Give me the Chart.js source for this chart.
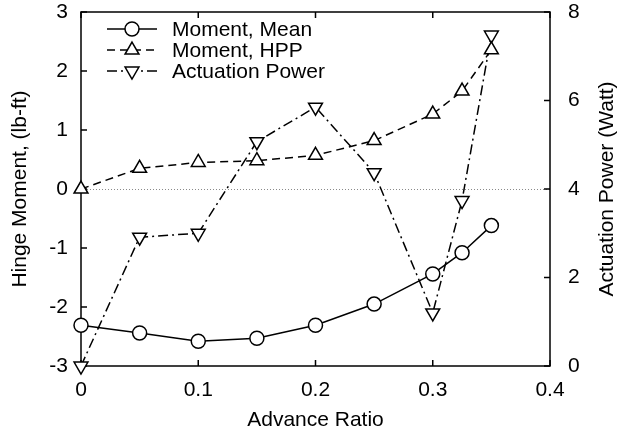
<!DOCTYPE html>
<html><head><meta charset="utf-8">
<script src="https://cdn.jsdelivr.net/npm/chart.js@4"></script>
<style>html,body{margin:0;padding:0;background:#fff}#wrap{width:621px;height:434px}</style>
</head><body><div id="wrap"><canvas id="c" width="621" height="434"></canvas></div>
<script>
const advanceRatio = [0, 0.05, 0.1, 0.15, 0.2, 0.25, 0.3, 0.325, 0.35];
const momentMean = [-2.31, -2.44, -2.58, -2.53, -2.31, -1.95, -1.44, -1.08, -0.62];
const momentHPP = [0.0, 0.35, 0.45, 0.48, 0.57, 0.82, 1.27, 1.66, 2.36];
const actuationPower = [0.0, 2.91, 3.0, 5.07, 5.85, 4.37, 1.2, 3.74, 7.48];
const xTicks = [0, 0.1, 0.2, 0.3, 0.4];
const yTicks = [-3, -2, -1, 0, 1, 2, 3];
const y2Ticks = [0, 2, 4, 6, 8];
const seriesNames = ['Moment, Mean', 'Moment, HPP', 'Actuation Power'];
const axisTitles = { x: 'Advance Ratio', y: 'Hinge Moment, (lb-ft)', y2: 'Actuation Power (Watt)' };

const FAMILY = '"Liberation Sans", Arial, Helvetica, sans-serif';
const FS = 21;
const font = { family: FAMILY, size: FS };

function pts(ys) { return advanceRatio.map((x, i) => ({ x: x, y: ys[i] })); }

const frameTicks = {
  id: 'frameTicks',
  beforeDatasetsDraw(chart) {
    const { ctx, chartArea: a, scales } = chart;
    ctx.save();
    const y0 = scales.y.getPixelForValue(0);
    ctx.strokeStyle = '#8a8a8a';
    ctx.lineWidth = 1;
    ctx.setLineDash([1, 2]);
    ctx.beginPath(); ctx.moveTo(a.left, y0 + 0.5); ctx.lineTo(a.right, y0 + 0.5); ctx.stroke();
    ctx.setLineDash([]);
    ctx.strokeStyle = '#000';
    ctx.lineWidth = 1.5;
    ctx.strokeRect(a.left, a.top, a.right - a.left, a.bottom - a.top);
    const L = 6;
    ctx.beginPath();
    xTicks.forEach(v => {
      const px = scales.x.getPixelForValue(v);
      ctx.moveTo(px, a.bottom); ctx.lineTo(px, a.bottom - L);
      ctx.moveTo(px, a.top); ctx.lineTo(px, a.top + L);
    });
    yTicks.forEach(v => {
      const py = scales.y.getPixelForValue(v);
      ctx.moveTo(a.left, py); ctx.lineTo(a.left + L, py);
    });
    y2Ticks.forEach(v => {
      const py = scales.y1.getPixelForValue(v);
      ctx.moveTo(a.right, py); ctx.lineTo(a.right - L, py);
    });
    ctx.stroke();
    ctx.restore();
  },
  afterDatasetsDraw(chart) {
    const { ctx, chartArea: a } = chart;
    ctx.save();
    ctx.fillStyle = '#000';
    ctx.font = FS + 'px ' + FAMILY;
    ctx.textAlign = 'center';
    ctx.textBaseline = 'middle';
    ctx.translate(607, (a.top + a.bottom) / 2);
    ctx.rotate(-Math.PI / 2);
    ctx.fillText(axisTitles.y2, 0, 0);
    ctx.restore();

    ctx.save();
    const rows = [29, 50, 71];
    chart.data.datasets.forEach((ds, i) => {
      const y = rows[i];
      ctx.strokeStyle = '#000';
      ctx.lineWidth = 1.5;
      ctx.setLineDash(ds.borderDash || []);
      ctx.beginPath(); ctx.moveTo(107, y); ctx.lineTo(157, y); ctx.stroke();
      ctx.setLineDash([]);
      ctx.fillStyle = '#fff';
      Chart.helpers.drawPoint(ctx, { pointStyle: ds.pointStyle, rotation: ds.pointRotation || 0, radius: ds.pointRadius, borderWidth: 1.5 }, 132, y);
      ctx.fillStyle = '#000';
      ctx.font = FS + 'px ' + FAMILY;
      ctx.textAlign = 'left';
      ctx.textBaseline = 'middle';
      ctx.fillText(ds.label, 172, y + 1);
    });
    ctx.restore();
  }
};

const common = {
  borderColor: '#000', borderWidth: 1.5, backgroundColor: '#fff',
  pointBackgroundColor: '#fff', pointBorderColor: '#000', pointBorderWidth: 1.5,
  pointHoverRadius: 0, tension: 0, clip: false, fill: false
};

function noPadV(s) { s.paddingTop = 0; s.paddingBottom = 0; }
function noPadH(s) { s.paddingLeft = 0; s.paddingRight = 0; }

new Chart(document.getElementById('c'), {
  type: 'line',
  data: {
    datasets: [
      Object.assign({}, common, { label: seriesNames[0], data: pts(momentMean), yAxisID: 'y', pointStyle: 'circle', pointRadius: 7 }),
      Object.assign({}, common, { label: seriesNames[1], data: pts(momentHPP), yAxisID: 'y', pointStyle: 'triangle', pointRadius: 8, borderDash: [8, 5] }),
      Object.assign({}, common, { label: seriesNames[2], data: pts(actuationPower), yAxisID: 'y1', pointStyle: 'triangle', pointRotation: 180, pointRadius: 8, borderDash: [10, 4, 2, 4] })
    ]
  },
  options: {
    responsive: false, animation: false, devicePixelRatio: 1,
    layout: { padding: { top: 12, left: 0, right: 0, bottom: 0 } },
    plugins: { legend: { display: false }, tooltip: { enabled: false } },
    scales: {
      x: {
        type: 'linear', position: 'bottom', min: 0, max: 0.4,
        afterBuildTicks: s => { s.ticks = xTicks.map(v => ({ value: v })); },
        afterFit: s => { s.height = 68; noPadH(s); },
        ticks: { font: font, color: '#000', padding: 12, maxRotation: 0, autoSkip: false, callback: v => String(v) },
        grid: { display: false, drawTicks: false }, border: { display: false },
        title: { display: true, text: axisTitles.x, font: font, color: '#000', padding: { top: 0, bottom: 1 } }
      },
      y: {
        type: 'linear', position: 'left', min: -3, max: 3,
        afterBuildTicks: s => { s.ticks = yTicks.map(v => ({ value: v })); },
        afterFit: s => { s.width = 81; noPadV(s); },
        ticks: { font: font, color: '#000', padding: 13, autoSkip: false, callback: v => String(v) },
        grid: { display: false, drawTicks: false }, border: { display: false },
        title: { display: true, text: axisTitles.y, font: font, color: '#000', padding: { top: 8, bottom: 0 } }
      },
      y1: {
        type: 'linear', position: 'right', min: 0, max: 8,
        afterBuildTicks: s => { s.ticks = y2Ticks.map(v => ({ value: v })); },
        afterFit: s => { s.width = 71; noPadV(s); },
        ticks: { font: font, color: '#000', padding: 18, autoSkip: false, callback: v => String(v) },
        grid: { display: false, drawTicks: false }, border: { display: false }
      }
    }
  },
  plugins: [frameTicks]
});
</script></body></html>
